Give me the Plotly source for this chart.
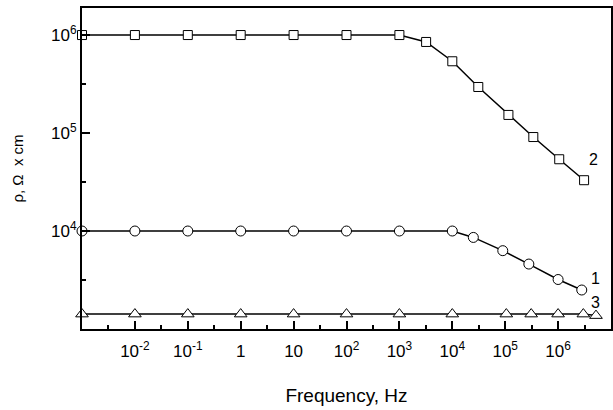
import math
import plotly.graph_objects as go

# Series 2 (squares)
freq2 = [1e-3, 1e-2, 1e-1, 1, 10, 100, 1e3, 3.2e3, 1e4, 3.1e4, 1.15e5, 3.4e5, 1.05e6, 3.1e6]
rho2 = [1e6, 1e6, 1e6, 1e6, 1e6, 1e6, 1e6, 8.5e5, 5.4e5, 2.95e5, 1.53e5, 9.1e4, 5.4e4, 3.3e4]

# Series 1 (circles)
freq1 = [1e-3, 1e-2, 1e-1, 1, 10, 100, 1e3, 1e4, 2.5e4, 9e4, 2.8e5, 1e6, 2.8e6]
rho1 = [1e4, 1e4, 1e4, 1e4, 1e4, 1e4, 1e4, 1e4, 8.6e3, 6.3e3, 4.6e3, 3.2e3, 2.5e3]

# Series 3 (triangles)
freq3 = [1e-3, 1e-2, 1e-1, 1, 10, 100, 1e3, 1e4, 1.05e5, 3.1e5, 1e6, 3e6, 5.2e6]
rho3 = [1.42e3, 1.42e3, 1.42e3, 1.42e3, 1.42e3, 1.42e3, 1.42e3, 1.42e3, 1.42e3, 1.42e3, 1.42e3, 1.42e3, 1.37e3]

x_tickvals = [1e-2, 1e-1, 1, 10, 1e2, 1e3, 1e4, 1e5, 1e6]
x_ticktext = ["10<sup>-2</sup>", "10<sup>-1</sup>", "1", "10", "10<sup>2</sup>",
              "10<sup>3</sup>", "10<sup>4</sup>", "10<sup>5</sup>", "10<sup>6</sup>"]
y_tickvals = [1e4, 1e5, 1e6]
y_ticktext = ["10<sup>4</sup>", "10<sup>5</sup>", "10<sup>6</sup>"]

x_minor = [10 ** (k + 0.5) for k in range(-3, 7)]
y_minor = [10 ** (k + 0.5) for k in range(3, 6)]

labels = ["2", "1", "3"]
label_x = [4.6e6, 5.0e6, 5.2e6]
label_y = [5.4e4, 3.3e3, 1.85e3]

FONT = "Arial, Liberation Sans, sans-serif"

fig = go.Figure()
common_line = dict(color="black", width=1.5)
fig.add_trace(go.Scatter(x=freq2, y=rho2, mode="lines+markers", line=common_line,
                         marker=dict(symbol="square", size=9, color="white",
                                     line=dict(color="black", width=1)), cliponaxis=False))
fig.add_trace(go.Scatter(x=freq1, y=rho1, mode="lines+markers", line=common_line,
                         marker=dict(symbol="circle", size=10, color="white",
                                     line=dict(color="black", width=1)), cliponaxis=False))
fig.add_trace(go.Scatter(x=freq3, y=rho3, mode="lines+markers", line=common_line,
                         marker=dict(symbol="triangle-up", size=11, color="white",
                                     line=dict(color="black", width=1)), cliponaxis=False))

for t, xv, yv in zip(labels, label_x, label_y):
    fig.add_annotation(x=math.log10(xv), y=math.log10(yv), xref="x", yref="y", text=t,
                       showarrow=False, font=dict(family=FONT, size=16, color="black"))

fig.update_layout(
    width=613, height=410,
    margin=dict(l=82, r=2, t=8, b=81),
    paper_bgcolor="white", plot_bgcolor="white",
    showlegend=False,
    font=dict(family=FONT, color="black"),
)
fig.update_xaxes(
    type="log", range=[-3, 7], automargin=False,
    tickmode="array", tickvals=x_tickvals, ticktext=x_ticktext,
    ticks="inside", ticklen=8, tickwidth=1.5, tickcolor="black",
    ticklabelstandoff=6,
    minor=dict(tickmode="array", tickvals=x_minor, ticks="inside", ticklen=4,
               tickwidth=1.5, tickcolor="black", showgrid=False),
    showline=True, linecolor="black", linewidth=2, mirror=True,
    showgrid=False, zeroline=False,
    tickfont=dict(family=FONT, size=17, color="black"),
    title=dict(text="Frequency, Hz", font=dict(family=FONT, size=19, color="black"), standoff=28),
)
fig.update_yaxes(
    type="log", range=[3, 6.276], automargin=False,
    tickmode="array", tickvals=y_tickvals, ticktext=y_ticktext,
    ticks="inside", ticklen=8, tickwidth=1.5, tickcolor="black",
    minor=dict(tickmode="array", tickvals=y_minor, ticks="inside", ticklen=4,
               tickwidth=1.5, tickcolor="black", showgrid=False),
    showline=True, linecolor="black", linewidth=2, mirror=True,
    showgrid=False, zeroline=False,
    tickfont=dict(family=FONT, size=17, color="black"),
    title=dict(text="ρ, Ω  x cm", font=dict(family=FONT, size=15, color="black"), standoff=24),
)

fig.write_html("out.html", config={"displayModeBar": False},
               post_script="document.body.style.margin='0';document.body.style.overflow='hidden';")
